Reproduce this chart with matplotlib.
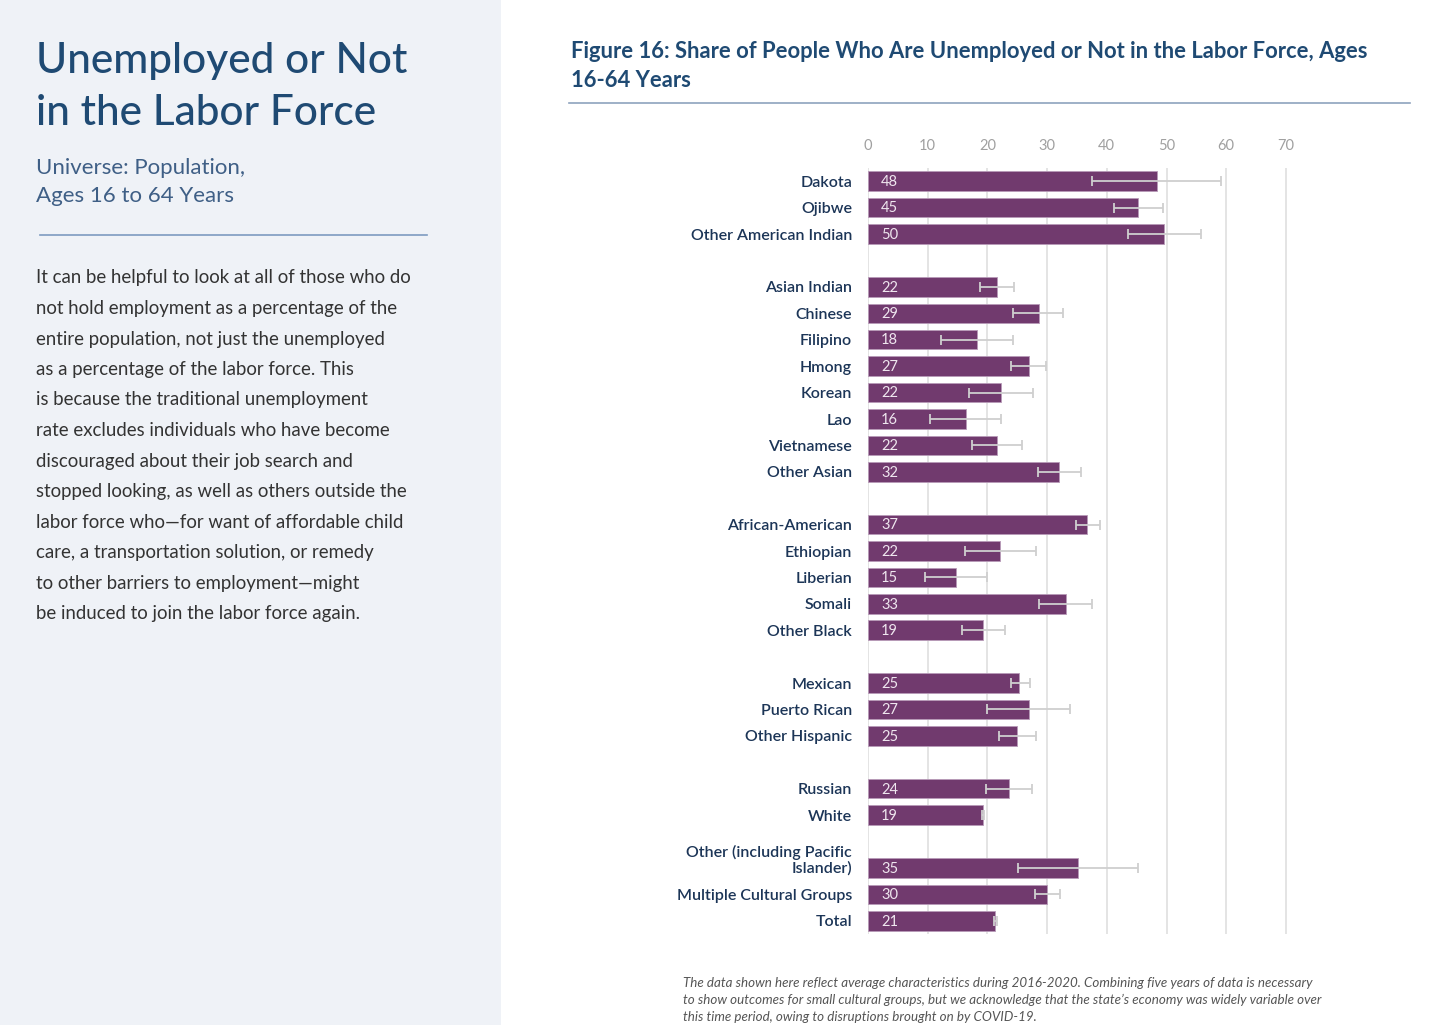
import matplotlib
matplotlib.use("Agg")
import matplotlib.pyplot as plt
from matplotlib.patches import Rectangle
from matplotlib.lines import Line2D

plt.rcParams["font.family"] = ["Lato", "DejaVu Sans"]

# groups of categories, a blank row between groups
groups = [
    ["Dakota", "Ojibwe", "Other American Indian"],
    ["Asian Indian", "Chinese", "Filipino", "Hmong", "Korean", "Lao",
     "Vietnamese", "Other Asian"],
    ["African-American", "Ethiopian", "Liberian", "Somali", "Other Black"],
    ["Mexican", "Puerto Rican", "Other Hispanic"],
    ["Russian", "White"],
    ["Other (including Pacific\nIslander)", "Multiple Cultural Groups", "Total"],
]
values = [48.4, 45.2, 49.6,
          21.6, 28.6, 18.2, 27.0, 22.3, 16.4, 21.6, 32.0,
          36.7, 22.1, 14.7, 33.2, 19.3,
          25.3, 26.9, 25.0,
          23.6, 19.3,
          35.2, 30.0, 21.3]
err_lo = [37.6, 41.2, 43.6,
          18.8, 24.3, 12.2, 24.0, 16.9, 10.4, 17.4, 28.5,
          34.8, 16.3, 9.5, 28.6, 15.7,
          23.9, 19.9, 21.9,
          19.7, 19.1,
          25.2, 27.9, 21.1]
err_hi = [59.2, 49.4, 55.8,
          24.5, 32.6, 24.3, 29.8, 27.6, 22.3, 25.8, 35.7,
          38.9, 28.1, 19.9, 37.5, 23.0,
          27.1, 33.8, 28.1,
          27.5, 19.5,
          45.3, 32.2, 21.6]
xticks = [0, 10, 20, 30, 40, 50, 60, 70]

body = [
    "It can be helpful to look at all of those who do",
    "not hold employment as a percentage of the",
    "entire population, not just the unemployed",
    "as a percentage of the labor force. This",
    "is because the traditional unemployment",
    "rate excludes individuals who have become",
    "discouraged about their job search and",
    "stopped looking, as well as others outside the",
    "labor force who\u2014for want of affordable child",
    "care, a transportation solution, or remedy",
    "to other barriers to employment\u2014might",
    "be induced to join the labor force again.",
]
footnote = ("The data shown here reflect average characteristics during 2016-2020. "
            "Combining five years of data is necessary\nto show outcomes for small "
            "cultural groups, but we acknowledge that the state\u2019s economy was "
            "widely variable over\nthis time period, owing to disruptions brought "
            "on by COVID-19.")

W, H = 1449, 1025
NAVY = "#1f4a73"
PURPLE = "#713a6e"

fig = plt.figure(figsize=(W / 100, H / 100), dpi=100)
fig.patch.set_facecolor("white")


def fx(px):
    return px / W


def fy(py):
    return 1 - py / H


# left panel
fig.patches.append(Rectangle((0, 0), fx(501), 1, transform=fig.transFigure,
                             facecolor="#eff2f7", edgecolor="none", zorder=0))
fig.text(fx(36), fy(87), "Unemployed or Not\nin the Labor Force", fontsize=30.5,
         color=NAVY, va="center", ha="left", linespacing=1.42, fontweight="medium")
fig.text(fx(36), fy(182), "Universe: Population,\nAges 16 to 64 Years",
         fontsize=16, color="#3f5f86", va="center", ha="left", linespacing=1.45)
fig.lines.append(Line2D([fx(40), fx(427)], [fy(235), fy(235)],
                        transform=fig.transFigure, color="#7d9bc0", lw=1.2))
for i, line in enumerate(body):
    fig.text(fx(36), fy(278 + i * 30.5), line, fontsize=13.4, color="#333333",
             va="center", ha="left")

# chart header
fig.text(fx(571), fy(66), "Figure 16: Share of People Who Are Unemployed or Not "
         "in the Labor Force, Ages\n16-64 Years", fontsize=15.8, color=NAVY,
         fontweight="bold", va="center", ha="left", linespacing=1.5)
fig.lines.append(Line2D([fx(569), fx(1410)], [fy(103), fy(103)],
                        transform=fig.transFigure, color="#8ea3bd", lw=1.2))
fig.text(fx(683), fy(1000), footnote, fontsize=9.6, color="#555555",
         style="italic", va="center", ha="left", linespacing=1.45)

# positions with gaps
labels, ypos = [], []
row = 0
for g in groups:
    for name in g:
        labels.append(name)
        ypos.append(row)
        row += 1
    row += 1
nrows = ypos[-1] + 1

x0, unit = 868, 5.97
xmax = 71
top, bottom = 168, 934
ax = fig.add_axes([fx(x0), fy(bottom), fx(unit * xmax), (bottom - top) / H])
ax.set_xlim(0, xmax)
ax.set_ylim(nrows - 0.5, -0.5)

lo = [v - a for v, a in zip(values, err_lo)]
hi = [b - v for v, b in zip(values, err_hi)]
ax.barh(ypos, values, height=0.74, color=PURPLE, edgecolor="#b89ab8",
        linewidth=0.6, zorder=2)
ax.errorbar(values, ypos, xerr=[lo, hi], fmt="none", ecolor="#cfcfcf",
            elinewidth=1.3, capsize=3.5, capthick=1.3, zorder=3)
for v, y in zip(values, ypos):
    ax.text(2.2, y + 0.03, f"{round(v)}", color="#efe6ef", fontsize=10.5,
            va="center", ha="left", zorder=4)

# category labels, right aligned left of the axis
lab_x = -16 / (unit * xmax)
for name, y in zip(labels, ypos):
    yy = y - 0.3 if "\n" in name else y + 0.06
    ax.text(lab_x, yy, name, transform=ax.get_yaxis_transform(), ha="right",
            va="center", fontsize=11.5, color="#1c3557", fontweight="semibold",
            linespacing=1.15)

ax.set_xticks(xticks)
ax.xaxis.tick_top()
ax.tick_params(axis="x", length=0, pad=11, labelsize=10.5, labelcolor="#a0a0a0")
ax.set_yticks([])
ax.grid(axis="x", color="#e4e4e4", lw=1.4, zorder=0)
ax.set_axisbelow(True)
for s in ax.spines.values():
    s.set_visible(False)
ax.set_facecolor("none")

fig.savefig("out.png", dpi=100)
